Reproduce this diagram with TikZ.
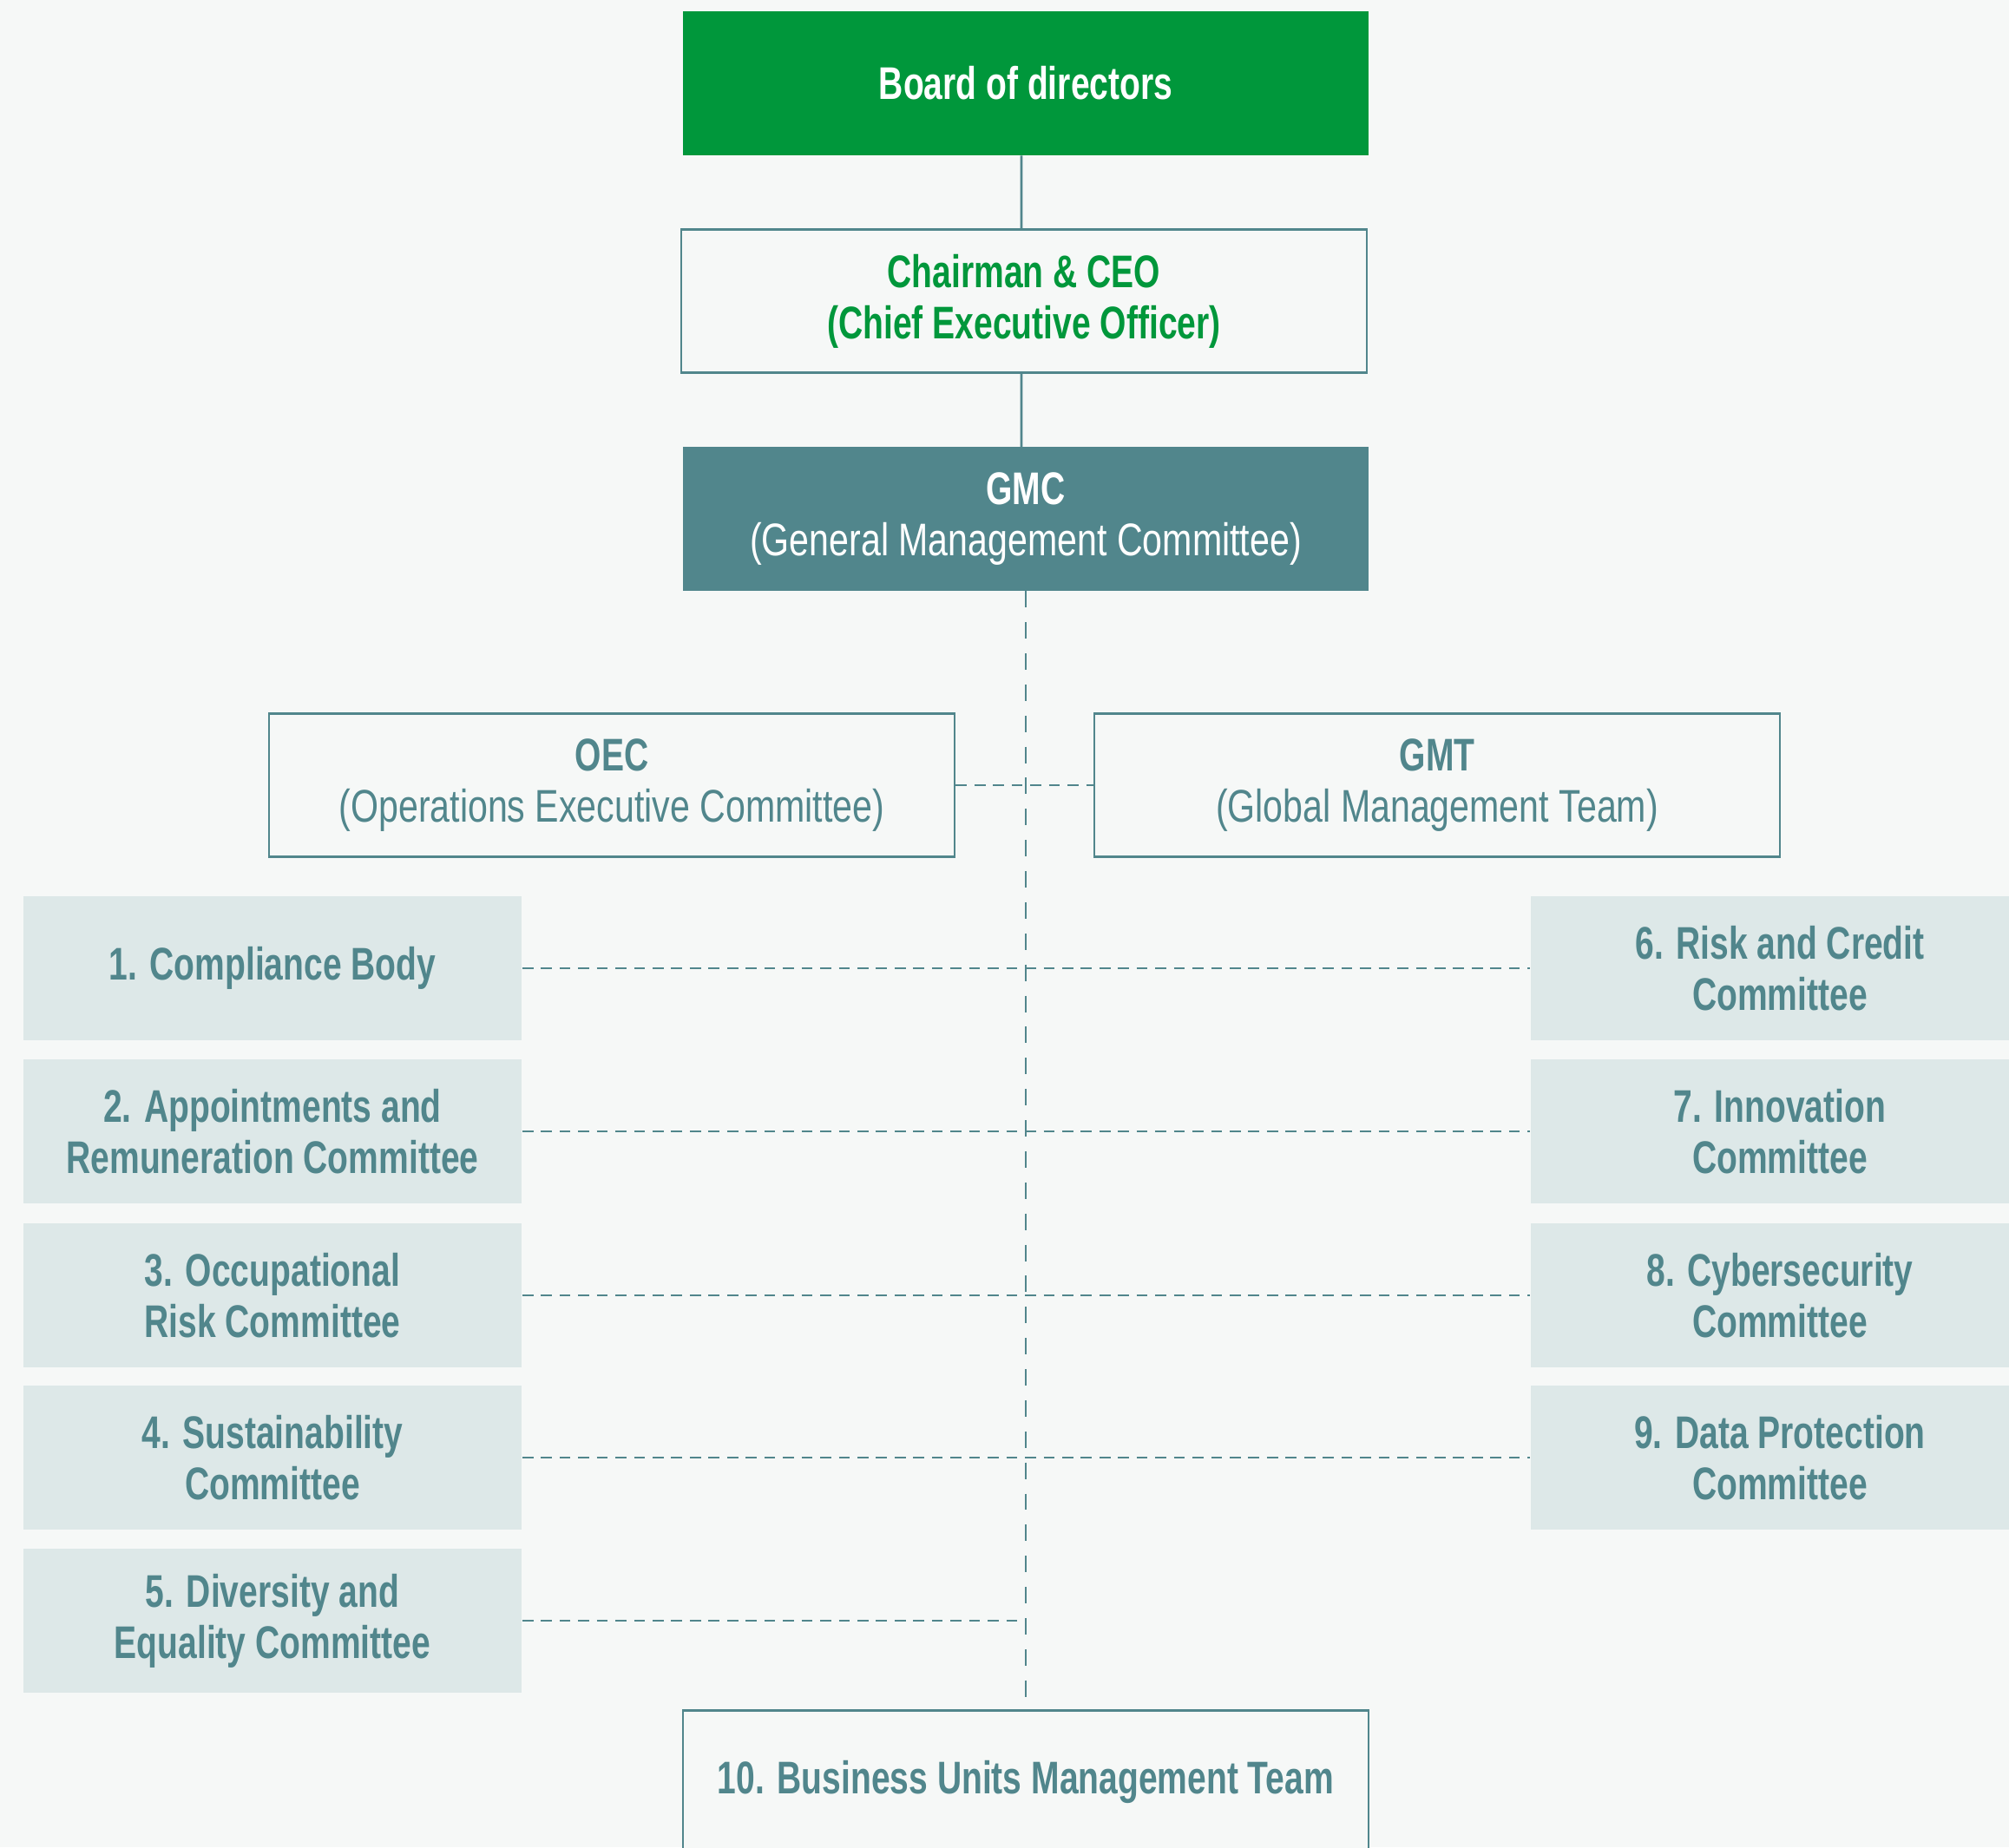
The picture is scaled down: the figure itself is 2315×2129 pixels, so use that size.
\documentclass[tikz,border=0pt]{standalone}
\usepackage{fontspec}
\setmainfont{Liberation Sans}[FakeStretch=0.78, BoldFeatures={FakeStretch=0.74}]
\usepackage{tikz}
\usetikzlibrary{positioning,calc}
\definecolor{pagebg}{HTML}{F6F8F7}
\definecolor{brdgreen}{HTML}{00973B}
\definecolor{teal}{HTML}{51868C}
\definecolor{paleteal}{HTML}{DDE8E8}
\tikzset{
  base/.style={align=center, font=\fontsize{15pt}{16.8pt}\selectfont, inner sep=0pt, minimum height=1.65cm},
  topbox/.style={base, fill=brdgreen, text=white, minimum width=7.9cm},
  linebox/.style={base, draw=teal, line width=0.7pt, fill=pagebg, minimum width=7.9cm},
  gmcbox/.style={base, fill=teal, text=white, minimum width=7.9cm},
  cmt/.style={base, fill=paleteal, text=teal, minimum width=5.74cm, font=\fontsize{15pt}{16.8pt}\selectfont\bfseries},
  solidlink/.style={draw=teal, line width=0.8pt},
  vlink/.style={draw=teal, line width=0.8pt, dash pattern=on 5.4pt off 4.8pt},
  hlink/.style={draw=teal, line width=0.8pt, dash pattern=on 3.6pt off 2.5pt},
}
\begin{document}
\begin{tikzpicture}[x=0.01cm, y=-0.01cm]
  \fill[pagebg] (0,0) rectangle (2315,2129);
  \useasboundingbox (0,0) rectangle (2315,2129);
  % top of the chart
  \node[topbox] (board) at (1182,96) {\textbf{Board of directors}};
  \node[linebox, text=brdgreen] (chair) at (1180,347) {\textbf{Chairman \& CEO}\\\textbf{(Chief Executive Officer)}};
  \node[gmcbox] (gmc) at (1182,598) {\textbf{GMC}\\(General Management Committee)};
  \node[linebox, text=teal] (oec) at (705,905) {\textbf{OEC}\\(Operations Executive Committee)};
  \node[linebox, text=teal] (gmt) at (1656,905) {\textbf{GMT}\\(Global Management Team)};
  % committees
  \node[cmt] (c1) at (314,1116) {1. Compliance Body};
  \node[cmt] (c2) at (314,1304) {2. Appointments and\\Remuneration Committee};
  \node[cmt] (c3) at (314,1493) {3. Occupational\\Risk Committee};
  \node[cmt] (c4) at (314,1680) {4. Sustainability\\Committee};
  \node[cmt] (c5) at (314,1868) {5. Diversity and\\Equality Committee};
  \node[cmt] (c6) at (2051,1116) {6. Risk and Credit\\Committee};
  \node[cmt] (c7) at (2051,1304) {7. Innovation\\Committee};
  \node[cmt] (c8) at (2051,1493) {8. Cybersecurity\\Committee};
  \node[cmt] (c9) at (2051,1680) {9. Data Protection\\Committee};
  \node[linebox, text=teal] (bu) at (1182,2054) {\textbf{10. Business Units Management Team}};
  % links
  \draw[solidlink] ([xshift=-0.05cm]board.south) -- ([xshift=-0.03cm]chair.north);
  \draw[solidlink] ([xshift=-0.03cm]chair.south) -- ([xshift=-0.05cm]gmc.north);
  \draw[vlink] (gmc) -- (bu);
  \draw[hlink] (oec) -- (gmt);
  \draw[hlink] (c1) -- (c6);
  \draw[hlink] (c2) -- (c7);
  \draw[hlink] (c3) -- (c8);
  \draw[hlink] (c4) -- (c9);
  \draw[hlink] (c5.east) -- (c5.east -| gmc.south);
\end{tikzpicture}
\end{document}
